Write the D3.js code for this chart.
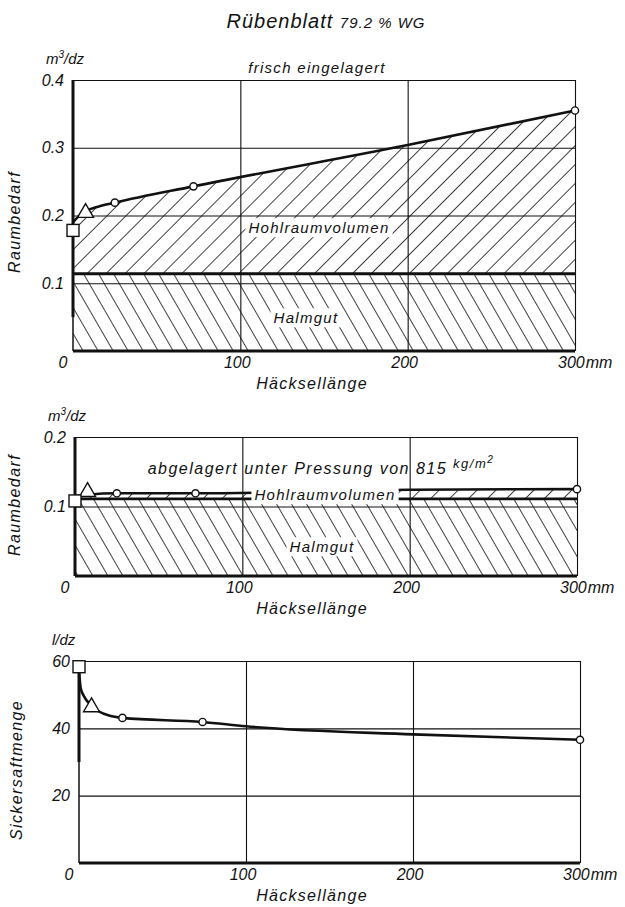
<!DOCTYPE html>
<head>
  <meta charset="utf-8">
  <script src="https://d3js.org/d3.v7.min.js"></script>
<style>
    body { margin: 0; background: #fff; }
    text {
        font-family: "Liberation Sans", Arial, sans-serif;
        font-style: italic;
        fill: #111;
    }
</style>
</head>

<body>
  <script>

// ---- data ----
var xTicks = [0, 100, 200, 300];

// frisch eingelagert (m3/dz)
var freshTicks = [0.1, 0.2, 0.3, 0.4];
var freshCurveX = [0, 3, 8, 15, 25, 72, 200, 300];
var freshCurveY = [0.19, 0.198, 0.207, 0.213, 0.219, 0.243, 0.304, 0.355];
var freshHalmgut = 0.114;
var freshCircleX = [25, 72, 300];
var freshCircleY = [0.219, 0.243, 0.355];
var freshSquare = [0, 0.178];
var freshTriangle = [7.5, 0.204];

// abgelagert unter Pressung (m3/dz)
var pressTicks = [0.1, 0.2];
var pressCurveX = [0, 7.5, 25, 72, 200, 300];
var pressCurveY = [0.115, 0.117, 0.119, 0.119, 0.124, 0.125];
var pressHalmgut = 0.111;
var pressCircleX = [25, 72, 300];
var pressCircleY = [0.119, 0.119, 0.125];
var pressSquare = [0, 0.108];
var pressTriangle = [7.5, 0.121];

// Sickersaftmenge (l/dz)
var juiceTicks = [20, 40, 60];
var juiceCurveX = [0, 1, 3, 7, 12, 18, 26, 74, 100, 200, 300];
var juiceCurveY = [57, 52, 49.5, 47, 45, 43.8, 43.1, 41.9, 40.6, 38.2, 36.6];
var juiceCircleX = [26, 74, 300];
var juiceCircleY = [43.1, 41.9, 36.6];
var juiceSquare = [0, 58.3];
var juiceTriangle = [7.5, 46.3];

var width = 625;
var height = 907;

var svg = d3.select("body")
    .append("svg")
    .attr("width", width)
    .attr("height", height);

var defs = svg.append("defs");

defs.append("pattern")
    .attr("id", "hatchFwd")
    .attr("patternUnits", "userSpaceOnUse")
    .attr("width", 13.4)
    .attr("height", 20)
    .attr("patternTransform", "rotate(45)")
    .append("line")
    .attr("x1", 0).attr("y1", 0).attr("x2", 0).attr("y2", 20)
    .attr("stroke", "#111").attr("stroke-width", 1.6);

defs.append("pattern")
    .attr("id", "hatchBack")
    .attr("patternUnits", "userSpaceOnUse")
    .attr("width", 13)
    .attr("height", 20)
    .attr("patternTransform", "rotate(-30)")
    .append("line")
    .attr("x1", 0).attr("y1", 0).attr("x2", 0).attr("y2", 20)
    .attr("stroke", "#111").attr("stroke-width", 1.6);

// title
var title = svg.append("text")
    .attr("x", 326)
    .attr("y", 28)
    .attr("text-anchor", "middle")
    .style("font-size", "20px")
    .style("letter-spacing", "1px");
title.append("tspan").text("Rübenblatt ");
title.append("tspan").style("font-size", "15px").text("79.2 % WG");

function zip(xs, ys) {
    return xs.map(function (x, i) { return [x, ys[i]]; });
}

function label(g, x, y, txt, size, box) {
    var t = g.append("text")
        .attr("x", x)
        .attr("y", y)
        .attr("text-anchor", "middle")
        .attr("dominant-baseline", "central")
        .style("font-size", size + "px")
        .style("letter-spacing", "1.3px")
        .text(txt);
    if (box) {
        var b = t.node().getBBox();
        g.insert("rect", function () { return t.node(); })
            .attr("x", b.x - 3).attr("y", b.y - 1)
            .attr("width", b.width + 6).attr("height", b.height + 2)
            .attr("fill", "#fff");
    }
    return t;
}

function drawPanel(p) {
    var g = svg.append("g");

    var x = d3.scaleLinear().domain([0, 300]).range([p.left, p.right]);
    var y = d3.scaleLinear().domain([0, p.yMax]).range([p.bottom, p.top]);

    var curve = zip(p.curveX, p.curveY);

    // hatched areas
    if (p.halmgut !== undefined) {
        g.append("path")
            .datum(curve)
            .attr("fill", "url(#hatchFwd)")
            .attr("d", d3.area()
                .x(function (d) { return x(d[0]); })
                .y0(y(p.halmgut))
                .y1(function (d) { return y(d[1]); })
                .curve(d3.curveMonotoneX));

        g.append("path")
            .datum([[0, p.halmgut], [300, p.halmgut]])
            .attr("fill", "url(#hatchBack)")
            .attr("d", d3.area()
                .x(function (d) { return x(d[0]); })
                .y0(y(0))
                .y1(function (d) { return y(d[1]); }));
    }

    // grid
    g.append("g")
        .attr("transform", "translate(0," + p.bottom + ")")
        .call(d3.axisBottom(x).tickValues([100, 200, 300])
            .tickSize(p.top - p.bottom).tickFormat(""))
        .call(function (s) {
            s.select(".domain").remove();
            s.selectAll("line").attr("stroke", "#111").attr("stroke-width", 1.1);
        });

    g.append("g")
        .attr("transform", "translate(" + p.left + ",0)")
        .call(d3.axisLeft(y).tickValues(p.yTicks)
            .tickSize(p.left - p.right).tickFormat(""))
        .call(function (s) {
            s.select(".domain").remove();
            s.selectAll("line").attr("stroke", "#111").attr("stroke-width", 1.1);
        });

    // heavy axes
    g.append("line")
        .attr("x1", x(0)).attr("x2", x(300))
        .attr("y1", y(0)).attr("y2", y(0))
        .attr("stroke", "#111").attr("stroke-width", 3);
    g.append("line")
        .attr("x1", x(0)).attr("x2", x(0))
        .attr("y1", y(0)).attr("y2", y(p.yMax))
        .attr("stroke", "#111").attr("stroke-width", 1.5);
    g.append("line")
        .attr("x1", x(0)).attr("x2", x(0))
        .attr("y1", y(p.thickFrom)).attr("y2", y(p.yMax))
        .attr("stroke", "#111").attr("stroke-width", 3);

    if (p.halmgut !== undefined) {
        g.append("line")
            .attr("x1", x(0)).attr("x2", x(300))
            .attr("y1", y(p.halmgut)).attr("y2", y(p.halmgut))
            .attr("stroke", "#111").attr("stroke-width", 2.8);
    }

    // measured curve
    g.append("path")
        .datum(curve)
        .attr("fill", "none")
        .attr("stroke", "#111")
        .attr("stroke-width", 2.6)
        .attr("d", d3.line()
            .x(function (d) { return x(d[0]); })
            .y(function (d) { return y(d[1]); })
            .curve(d3.curveMonotoneX));

    // inner labels
    p.labels.forEach(function (l) {
        label(g, l.x, y(l.v), l.text, l.size, true);
    });

    // markers
    g.selectAll(".pt")
        .data(zip(p.circleX, p.circleY))
        .enter()
        .append("circle")
        .attr("cx", function (d) { return x(d[0]); })
        .attr("cy", function (d) { return y(d[1]); })
        .attr("r", 3.6)
        .attr("fill", "#fff")
        .attr("stroke", "#111")
        .attr("stroke-width", 1.4);

    g.append("path")
        .attr("d", d3.symbol(d3.symbolTriangle, 110)())
        .attr("transform", "translate(" + x(p.triangle[0]) + "," + y(p.triangle[1]) + ")")
        .attr("fill", "#fff")
        .attr("stroke", "#111")
        .attr("stroke-width", 1.4);

    g.append("rect")
        .attr("x", x(p.square[0]) - 6)
        .attr("y", y(p.square[1]) - 6)
        .attr("width", 12)
        .attr("height", 12)
        .attr("fill", "#fff")
        .attr("stroke", "#111")
        .attr("stroke-width", 1.4);

    // tick labels
    g.selectAll(".yl")
        .data(p.yTicks)
        .enter()
        .append("text")
        .attr("x", p.left - 9)
        .attr("y", function (d) { return y(d); })
        .attr("dy", "0.35em")
        .attr("text-anchor", "end")
        .style("font-size", "16px")
        .text(function (d) { return p.fmt(d); });

    var xl = g.selectAll(".xl")
        .data(xTicks)
        .enter()
        .append("text")
        .attr("x", function (d) {
            if (d === 0) return x(d) - 10;
            if (d === 300) return x(d) - 17;
            return x(d) - 3;
        })
        .attr("y", p.bottom + 17)
        .attr("text-anchor", function (d) { return d === 300 ? "start" : "middle"; })
        .style("font-size", "16px")
        .text(function (d) { return d; });
    xl.filter(function (d) { return d === 300; })
        .append("tspan")
        .attr("dx", 1)
        .text("mm");

    g.append("text")
        .attr("x", 312)
        .attr("y", p.bottom + 38)
        .attr("text-anchor", "middle")
        .style("font-size", "16px")
        .style("letter-spacing", "1.3px")
        .text("Häcksellänge");

    // unit and axis title
    var u = g.append("text")
        .attr("x", p.left - 27)
        .attr("y", p.top - 16)
        .style("font-size", "15px");
    u.append("tspan").text(p.unit[0]);
    if (p.unit[1]) {
        u.append("tspan").attr("dy", -6).style("font-size", "10px").text(p.unit[1]);
        u.append("tspan").attr("dy", 6).text(p.unit[2]);
    }

    g.append("text")
        .attr("transform", "translate(" + p.titleX + "," + p.titleY + ") rotate(-90)")
        .attr("text-anchor", "middle")
        .style("font-size", "16px")
        .style("letter-spacing", "1.4px")
        .text(p.title);

    return g;
}

var dec = function (d) { return d.toFixed(1); };

var g1 = drawPanel({
    top: 80, bottom: 351, left: 73, right: 575, yMax: 0.4,
    yTicks: freshTicks, fmt: dec,
    curveX: freshCurveX, curveY: freshCurveY, halmgut: freshHalmgut,
    circleX: freshCircleX, circleY: freshCircleY,
    square: freshSquare, triangle: freshTriangle,
    thickFrom: 0.05,
    unit: ["m", "3", "/dz"],
    title: "Raumbedarf", titleX: 20, titleY: 222,
    labels: [
        { x: 319, v: 0.182, text: "Hohlraumvolumen", size: 15 },
        { x: 306, v: 0.049, text: "Halmgut", size: 15 }
    ]
});
label(g1, 317, 67, "frisch eingelagert", 15, false);

var g2 = drawPanel({
    top: 437, bottom: 576, left: 75, right: 577, yMax: 0.2,
    yTicks: pressTicks, fmt: dec,
    curveX: pressCurveX, curveY: pressCurveY, halmgut: pressHalmgut,
    circleX: pressCircleX, circleY: pressCircleY,
    square: pressSquare, triangle: pressTriangle,
    thickFrom: 0.0,
    unit: ["m", "3", "/dz"],
    title: "Raumbedarf", titleX: 20, titleY: 505,
    labels: [
        { x: 325, v: 0.117, text: "Hohlraumvolumen", size: 15 },
        { x: 322, v: 0.042, text: "Halmgut", size: 15 }
    ]
});

var sub = g2.append("text")
    .attr("x", 321)
    .attr("y", 468)
    .attr("text-anchor", "middle")
    .attr("dominant-baseline", "central")
    .style("font-size", "16px")
    .style("letter-spacing", "1.5px");
sub.append("tspan").text("abgelagert unter Pressung von 815 ");
sub.append("tspan").attr("dy", -5).style("font-size", "13px").text("kg/m");
sub.append("tspan").attr("dy", -4).style("font-size", "10px").text("2");

drawPanel({
    top: 661, bottom: 863, left: 79, right: 580, yMax: 60,
    yTicks: juiceTicks, fmt: function (d) { return d; },
    curveX: juiceCurveX, curveY: juiceCurveY,
    circleX: juiceCircleX, circleY: juiceCircleY,
    square: juiceSquare, triangle: juiceTriangle,
    thickFrom: 30,
    unit: ["l/dz"],
    title: "Sickersaftmenge", titleX: 22, titleY: 770,
    labels: []
});

  </script>
</body>
